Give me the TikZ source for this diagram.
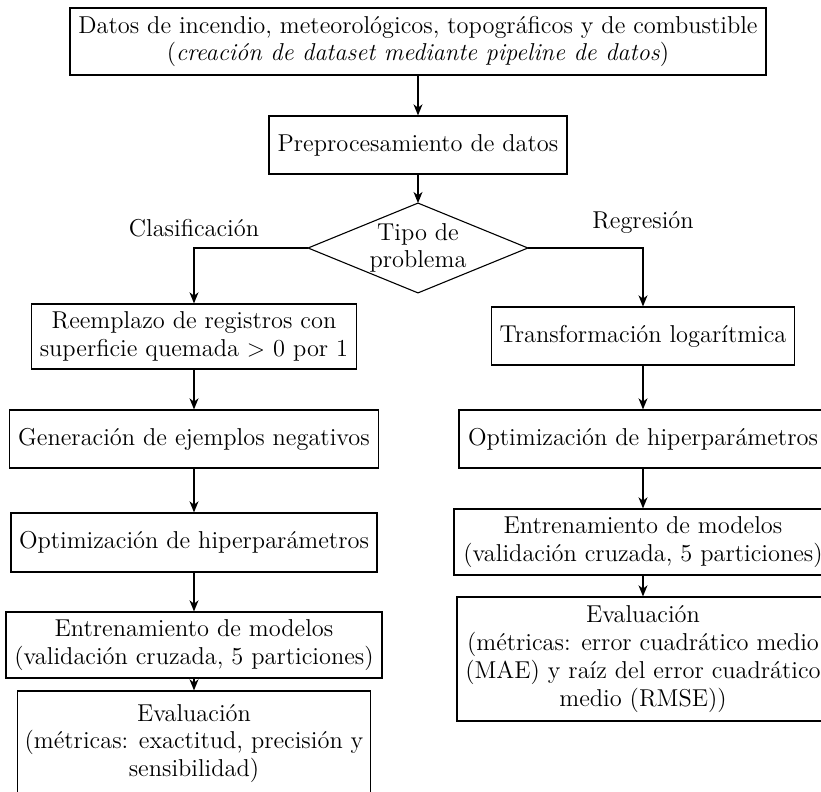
\documentclass[tikz,border=0pt]{standalone}
\usepackage{fontspec}
\usetikzlibrary{arrows.meta}
\begin{document}
\begin{tikzpicture}[x=0.5pt,y=-0.5pt,
  txt/.style={font=\fontsize{12.2pt}{13.9pt}\selectfont, align=center, inner sep=0pt},
  box/.style={txt, draw, line width=0.55pt},
  arr/.style={-{Stealth[length=5.5pt,width=4.4pt,inset=1.6pt]}, line width=1.1pt}]
\useasboundingbox (0,0) rectangle (821,792);
\node[box, minimum width=348pt, minimum height=33.5pt] (T) at (418,41.5)
  {Datos de incendio, meteorológicos, topográficos y de combustible\\(\textit{creación de dataset mediante pipeline de datos})};
\node[box, minimum width=149pt, minimum height=29pt] (P) at (418,145) {Preprocesamiento de datos};
\node[txt, minimum width=109.5pt, minimum height=44.5pt] (D) at (418,248) {Tipo de\\problema};
\draw[line width=0.55pt] (D.north) -- (D.east) -- (D.south) -- (D.west) -- cycle;
\node[txt] (lc) at (194,228) {Clasificación};
\node[txt] (lr) at (643,222) {Regresión};
\node[box, minimum width=162.5pt, minimum height=32.5pt] (L1) at (194,336.5) {Reemplazo de registros con\\superficie quemada $>$ 0 por 1};
\node[box, minimum width=151.5pt, minimum height=29pt] (R1) at (643,336) {Transformación logarítmica};
\node[box, minimum width=184.5pt, minimum height=29pt] (L2) at (194,439) {Generación de ejemplos negativos};
\node[box, minimum width=184pt, minimum height=29pt] (R2) at (643,439) {Optimización de hiperparámetros};
\node[box, minimum width=183pt, minimum height=29.5pt] (L3) at (194,542.5) {Optimización de hiperparámetros};
\node[box, minimum width=189pt, minimum height=33pt] (R3) at (643,542) {Entrenamiento de modelos\\(validación cruzada, 5 particiones)};
\node[box, minimum width=188pt, minimum height=33pt] (L4) at (194,645) {Entrenamiento de modelos\\(validación cruzada, 5 particiones)};
\node[box, minimum width=186pt, minimum height=62pt] (R4) at (643,659) {Evaluación\\(métricas: error cuadrático medio\\(MAE) y raíz del error cuadrático\\medio (RMSE))};
\node[box, minimum width=176.5pt, minimum height=52.5pt] (L5) at (194,743.5) {Evaluación\\(métricas: exactitud, precisión y\\sensibilidad)};
\coordinate (cl) at (194,248);
\coordinate (cr) at (643,248);
\draw[arr] (T) -- (P);
\draw[arr] (P) -- (D.north);
\draw[arr] (D.west) -- (cl) -- (L1.north);
\draw[arr] (D.east) -- (cr) -- (R1.north);
\draw[arr] (L1) -- (L2);
\draw[arr] (L2) -- (L3);
\draw[arr] (L3) -- (L4);
\draw[arr] (L4) -- (L5);
\draw[arr] (R1) -- (R2);
\draw[arr] (R2) -- (R3);
\draw[arr] (R3) -- (R4);
\end{tikzpicture}
\end{document}
